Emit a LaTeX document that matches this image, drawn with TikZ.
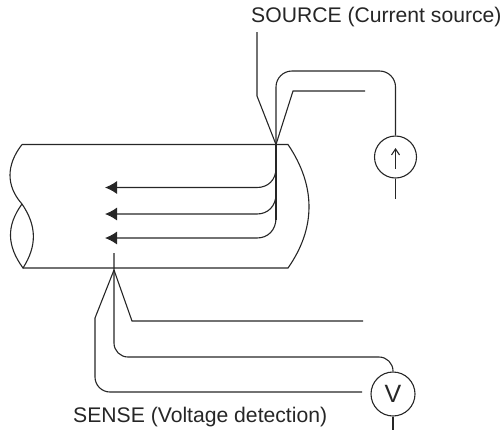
\documentclass[tikz,border=0pt]{standalone}
\usepackage{fontspec}
\setmainfont{Liberation Sans}
\usetikzlibrary{arrows.meta}
\tikzset{
  wire/.style={draw=black!85,line width=1.1pt},
  meter/.style={circle,draw=black!85,line width=1.1pt,inner sep=0pt},
  lbl/.style={text=black!85,font=\fontsize{21.15}{24}\selectfont,inner sep=0pt,anchor=base west},
  cur/.style={wire,-{Latex[length=12pt,width=13pt]}}
}
\begin{document}
\begin{tikzpicture}[x=1pt,y=-1pt]
\useasboundingbox (0,0) rectangle (503,432);
\node[lbl] (src) at (251,22) {SOURCE (Current source)};
\node[lbl] (sns) at (73,422.5) {SENSE (Voltage detection)};
\node[meter,minimum size=42pt] (I) at (395.5,157) {};
\node[meter,minimum size=44pt,font=\fontsize{25}{28}\selectfont,text=black!85] (V) at (393,394) {V};
\coordinate (A) at (276,144.5);
\coordinate (B) at (114,270);
\coordinate (a1) at (257,32);
\coordinate (a2) at (257,96);
\coordinate (a3) at (293,91);
\coordinate (a4) at (365,91);
\coordinate (iend) at (395.5,199);
\coordinate (itop) at (395.5,148);
\coordinate (ibot) at (395.5,168.5);
\coordinate (s0) at (114,253);
\coordinate (b1) at (132,321);
\coordinate (b2) at (363,321);
\coordinate (c1) at (95,318);
\coordinate (c2) at (362,392);
\coordinate (vend) at (393,430);
% pipe
\draw[wire] (22,144.5) -- (288,144.5) .. controls (316,186) and (316,228) .. (288,268) -- (23,268);
\draw[wire] (22,144.5) .. controls (6,165) and (6,186) .. (22,204) .. controls (37,226) and (37,246) .. (23,268) .. controls (7,246) and (6,226) .. (22,204);
% source leads
\draw[wire] (a1) -- (a2) -- (A) -- (a3) -- (a4);
\draw[wire,rounded corners=16pt] (A) -- (276,71) -- (395.5,71) -- (I.north);
\draw[wire] (I.south) -- (iend);
\draw[wire,-{Straight Barb[length=6pt,width=8pt]}] (ibot) -- (itop);
% currents
\draw[wire] (A) -- (276,220);
\draw[cur] (276,168) .. controls (276,180) and (268,187.5) .. (257,187.5) -- (105,187.5);
\draw[cur] (276,194) .. controls (276,206) and (268,214) .. (257,214) -- (105,214);
\draw[cur] (276,218) .. controls (276,230) and (268,238) .. (257,238) -- (105,238);
% sense leads
\draw[wire] (s0) -- (B) -- (b1) -- (b2);
\draw[wire,rounded corners=14pt] (B) -- (114,357) -- (393,357) -- (V.north);
\draw[wire] (B) -- (c1);
\draw[wire,rounded corners=15pt] (c1) -- (95,392) -- (c2);
\draw[wire] (V.south) -- (vend);
\end{tikzpicture}
\end{document}
